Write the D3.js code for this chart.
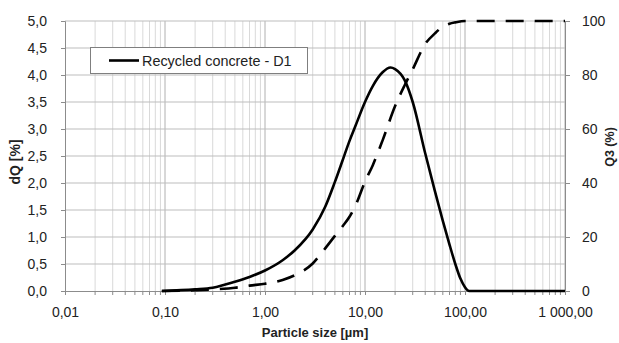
<!DOCTYPE html>
<html>
<head>
<meta charset="utf-8">
<script src="https://cdn.jsdelivr.net/npm/d3@7"></script>
<style>
  html, body { margin: 0; padding: 0; background: #fff; }
  svg { display: block; font-family: "Liberation Sans", "DejaVu Sans", sans-serif; }
</style>
</head>
<body>
<svg id="chart" width="619" height="343"></svg>
<script>
// Particle size distribution (laser diffraction) – recycled concrete D1
const seriesName = "Recycled concrete - D1";

// Density distribution dQ [%] vs particle size [µm]
const dqSizes  = [0.093, 0.2, 0.3, 0.5, 0.7, 1.0, 1.5, 2, 3, 4, 5, 6, 7, 8, 10, 12, 15, 18, 20, 25, 30, 40, 50, 60, 70, 80, 90, 100, 110, 1000];
const dqValues = [0, 0.03, 0.06, 0.17, 0.26, 0.38, 0.57, 0.76, 1.14, 1.56, 2.02, 2.43, 2.78, 3.05, 3.50, 3.80, 4.05, 4.14, 4.11, 3.90, 3.50, 2.55, 1.85, 1.30, 0.86, 0.50, 0.23, 0.07, 0, 0];

// Cumulative distribution Q3 [%] vs particle size [µm]
const q3Sizes  = [0.093, 0.2, 0.3, 0.5, 0.7, 1.0, 1.5, 2, 3, 4, 5, 6, 7, 8, 10, 12, 15, 20, 25, 30, 40, 50, 60, 70, 80, 100, 1000];
const q3Values = [0, 0.3, 0.6, 1.2, 2.0, 2.7, 4.1, 5.9, 10.2, 15.8, 20.4, 24.1, 27.5, 31.5, 40.5, 46.7, 55.8, 68.5, 76.3, 82.1, 91.5, 95.4, 97.9, 99.0, 99.5, 100, 100];

// Axis ticks
const xTicks = [0.01, 0.1, 1, 10, 100, 1000];
const xTickLabels = ["0,01", "0,10", "1,00", "10,00", "100,00", "1 000,00"];
const yLeftTicks = [0, 0.5, 1, 1.5, 2, 2.5, 3, 3.5, 4, 4.5, 5];
const yRightTicks = [0, 20, 40, 60, 80, 100];

const svg = d3.select("#chart");
const margin = { left: 65, right: 54, top: 21, bottom: 52 };
const W = 619, H = 343;
const x0 = margin.left, x1 = W - margin.right, y0 = H - margin.bottom, y1 = margin.top;

const x = d3.scaleLog().domain([0.01, 1000]).range([x0, x1]);
const yL = d3.scaleLinear().domain([0, 5]).range([y0, y1]);
const yR = d3.scaleLinear().domain([0, 100]).range([y0, y1]);

// Minor vertical gridlines (2..9 of each decade)
const minor = [];
for (let e = -2; e < 3; e++) for (let m = 2; m <= 9; m++) minor.push(m * Math.pow(10, e));

const grid = svg.append("g");
grid.selectAll("line.minor").data(minor).join("line")
  .attr("x1", d => x(d)).attr("x2", d => x(d))
  .attr("y1", y1).attr("y2", y0)
  .attr("stroke", "#d9d9d9").attr("stroke-width", 1);
grid.selectAll("line.major").data(xTicks.slice(1)).join("line")
  .attr("x1", d => x(d)).attr("x2", d => x(d))
  .attr("y1", y1).attr("y2", y0)
  .attr("stroke", "#b0b0b0").attr("stroke-width", 1);
grid.selectAll("line.h").data(yLeftTicks.slice(1)).join("line")
  .attr("x1", x0).attr("x2", x1)
  .attr("y1", d => yL(d)).attr("y2", d => yL(d))
  .attr("stroke", "#bdbdbd").attr("stroke-width", 1);

// Axes
const axisColor = "#8c8c8c";
const fontSize = "14px";

const gx = svg.append("g").attr("transform", `translate(0,${y0})`)
  .call(d3.axisBottom(x).tickValues(xTicks).tickFormat((d, i) => xTickLabels[i]).tickSize(4).tickPadding(12));
gx.selectAll("line.extra").data(minor).join("line")
  .attr("x1", d => x(d)).attr("x2", d => x(d)).attr("y1", 0).attr("y2", 4)
  .attr("stroke", axisColor);

const gl = svg.append("g").attr("transform", `translate(${x0},0)`)
  .call(d3.axisLeft(yL).tickValues(yLeftTicks).tickFormat(d => d3.format(".1f")(d).replace(".", ",")).tickSize(4).tickPadding(14));

const gr = svg.append("g").attr("transform", `translate(${x1},0)`)
  .call(d3.axisRight(yR).tickValues(yRightTicks).tickSize(5).tickPadding(12));

[gx, gl, gr].forEach(g => {
  g.select(".domain").attr("stroke", axisColor);
  g.selectAll(".tick line").attr("stroke", axisColor);
  g.selectAll(".tick text").attr("fill", "#222").style("font-size", fontSize)
    .style("font-family", "'Liberation Sans', sans-serif");
});

// Axis titles
svg.append("text").attr("x", (x0 + x1) / 2).attr("y", 337).attr("text-anchor", "middle")
  .style("font-weight", "bold").style("font-size", "13px").attr("fill", "#222")
  .text("Particle size [µm]");
svg.append("text").attr("transform", "translate(20,162) rotate(-90)")
  .attr("text-anchor", "middle").style("font-weight", "bold").style("font-size", "14px").attr("fill", "#222")
  .text("dQ [%]");
svg.append("text").attr("transform", "translate(614,147) rotate(-90)")
  .attr("text-anchor", "middle").style("font-weight", "bold").style("font-size", "12.5px").attr("fill", "#222")
  .text("Q3 (%)");

// Curves
const dqLine = d3.line().x(d => x(d[0])).y(d => yL(d[1])).curve(d3.curveMonotoneX);
const q3Line = d3.line().x(d => x(d[0])).y(d => yR(d[1])).curve(d3.curveMonotoneX);

svg.append("path").datum(d3.zip(q3Sizes, q3Values))
  .attr("d", q3Line).attr("fill", "none").attr("stroke", "#000")
  .attr("stroke-width", 2.6).attr("stroke-dasharray", "18,11");
svg.append("path").datum(d3.zip(dqSizes, dqValues))
  .attr("d", dqLine).attr("fill", "none").attr("stroke", "#000")
  .attr("stroke-width", 2.6);

// Legend
const lg = svg.append("g");
lg.append("rect").attr("x", 90.5).attr("y", 47.5).attr("width", 217).attr("height", 26)
  .attr("fill", "#fff").attr("stroke", "#7f7f7f");
lg.append("line").attr("x1", 109).attr("x2", 139).attr("y1", 60.5).attr("y2", 60.5)
  .attr("stroke", "#000").attr("stroke-width", 2.6);
lg.append("text").attr("x", 142).attr("y", 65.5).style("font-size", "14.4px").attr("fill", "#222")
  .text(seriesName);
</script>
</body>
</html>
